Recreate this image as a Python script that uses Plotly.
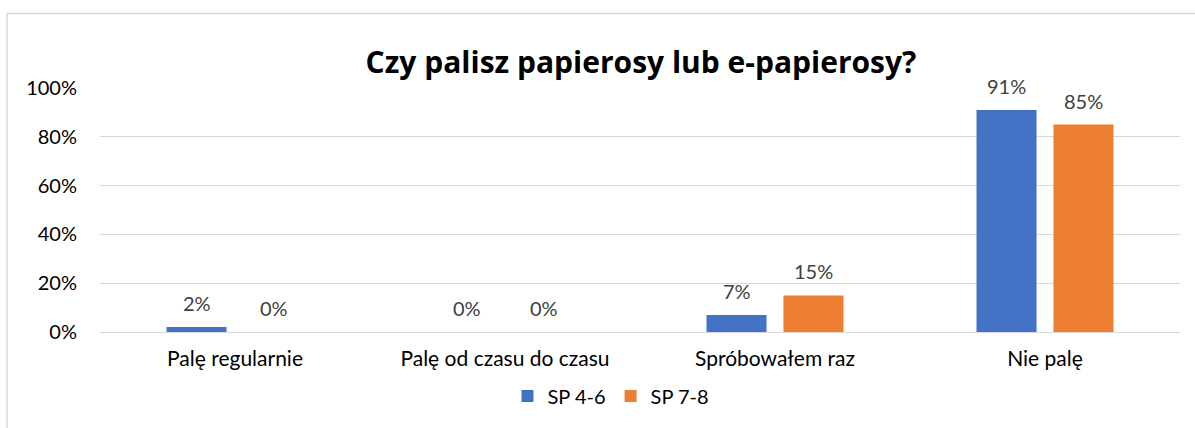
import plotly.graph_objects as go

categories = ["Palę regularnie", "Palę od czasu do czasu", "Spróbowałem raz", "Nie palę"]
sp46 = [0.02, 0.0, 0.07, 0.91]
sp78 = [0.0, 0.0, 0.15, 0.85]
series_names = ["SP 4-6", "SP 7-8"]
colors = ["#4472C4", "#ED7D31"]
title = "Czy palisz papierosy lub e-papierosy?"
tick_vals = [0, 0.2, 0.4, 0.6, 0.8, 1.0]
tick_text = ["0%", "20%", "40%", "60%", "80%", "100%"]

FONT = "Lato, 'Open Sans', sans-serif"
TFONT = "'Open Sans', Lato, sans-serif"

L, R, T, B = 100, 15, 88, 96
W, H = 1195, 428
pw, ph = W - L - R, H - T - B

def px_to_paper_x(x):
    return (x - L) / pw

def px_to_paper_y(y):
    return (H - B - y) / ph

fig = go.Figure()
annotations = []
offsets = [-38.5, 38.5]
for name, vals, col, off in zip(series_names, [sp46, sp78], colors, offsets):
    fig.add_trace(go.Bar(
        x=categories, y=vals, name=name,
        marker=dict(color=col, line=dict(width=0)),
    ))
    for c, v in zip(categories, vals):
        annotations.append(dict(
            x=c, y=v, xref="x", yref="y", text=f"{round(v*100)}%",
            showarrow=False, xshift=off, yshift=24, yanchor="middle",
            font=dict(family=FONT, size=20, color="#404040"),
        ))

fig.update_layout(
    width=W, height=H,
    margin=dict(l=L, r=R, t=T, b=B),
    paper_bgcolor="white", plot_bgcolor="white",
    barmode="group", bargap=0.43, bargroupgap=0.22,
    title=dict(text=f"<b>{title}</b>", x=px_to_paper_x(641), xref="paper", xanchor="center",
               y=1 - 62 / H, yanchor="middle",
               font=dict(family=TFONT, size=30, color="#000000")),
    font=dict(family=FONT, size=20, color="#000000"),
    legend=dict(orientation="h", x=px_to_paper_x(611), xanchor="center",
                y=px_to_paper_y(396), yanchor="middle",
                font=dict(family=FONT, size=20, color="#000000"),
                itemwidth=30, traceorder="normal"),
    xaxis=dict(showgrid=False, showline=False, ticks="", ticklabelstandoff=12,
               tickfont=dict(family=FONT, size=21, color="#000000")),
    yaxis=dict(range=[0, 1.0], tickvals=tick_vals, ticktext=tick_text,
               showgrid=True, gridcolor="#d9d9d9", gridwidth=1.3,
               zeroline=True, zerolinecolor="#d9d9d9", zerolinewidth=1.3,
               showline=False, ticks="", ticklabelstandoff=22,
               tickfont=dict(family=FONT, size=20, color="#000000")),
    annotations=annotations,
    shapes=[dict(type="rect", xref="paper", yref="paper",
                 x0=px_to_paper_x(7), x1=px_to_paper_x(1210),
                 y0=px_to_paper_y(440), y1=px_to_paper_y(13.5),
                 line=dict(color="#d9d9d9", width=1.5), fillcolor="rgba(0,0,0,0)",
                 layer="below")],
)

fig.write_html("out.html", config={"displayModeBar": False},
               post_script="document.body.style.margin='0';document.body.style.padding='0';")
